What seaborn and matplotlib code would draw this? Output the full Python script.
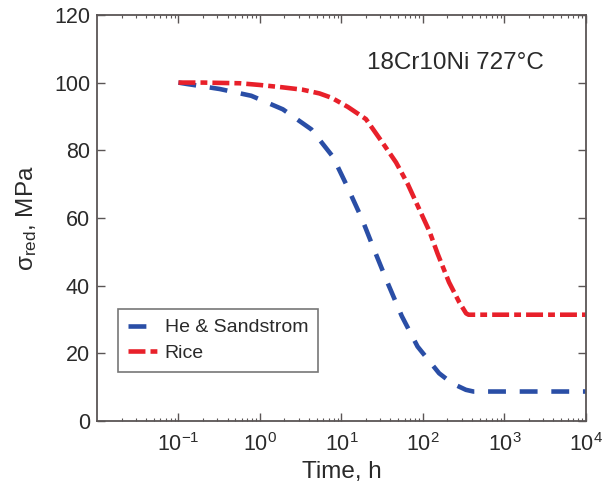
import numpy as np
import pandas as pd
import matplotlib
matplotlib.use("Agg")
import matplotlib.pyplot as plt
from matplotlib.ticker import LogLocator, NullFormatter
import seaborn as sns

# Reduced stress vs. time, 18Cr10Ni at 727 °C
time_he = [0.1, 0.126, 0.321, 0.783, 1.91, 4.26, 7.85, 11.4, 17.8, 25.7, 36.9,
           55.0, 85.9, 158.0, 229.0, 337.0, 417.0, 10000.0]
sigma_he = [100.0, 99.6, 98.1, 96.1, 92.1, 86.2, 78.1, 70.0, 59.8, 50.1, 40.8,
            31.0, 22.0, 14.1, 11.1, 9.2, 8.7, 8.7]

time_rice = [0.1, 0.199, 0.564, 0.991, 1.89, 3.33, 5.37, 7.59, 12.0, 20.0, 31.6,
             46.8, 64.6, 93.3, 120.0, 151.0, 209.0, 279.0, 339.0, 363.0, 10000.0]
sigma_rice = [100.0, 100.0, 99.8, 99.3, 98.6, 97.9, 96.8, 95.5, 92.8, 89.2, 82.4,
              76.4, 70.2, 61.8, 56.1, 49.5, 41.0, 35.1, 31.8, 31.4, 31.4]

series_names = ["He & Sandstrom", "Rice"]
series_colors = ["#2a4ea6", "#e8202a"]

df = pd.concat([
    pd.DataFrame({"t": time_he, "sigma": sigma_he, "model": series_names[0]}),
    pd.DataFrame({"t": time_rice, "sigma": sigma_rice, "model": series_names[1]}),
], ignore_index=True)

sns.set_style("ticks")
plt.rcParams["font.family"] = ["Liberation Sans", "DejaVu Sans"]
plt.rcParams["mathtext.fontset"] = "custom"
plt.rcParams["mathtext.rm"] = "Liberation Sans"
plt.rcParams["mathtext.it"] = "Liberation Sans:italic"
plt.rcParams["mathtext.sf"] = "Liberation Sans"
plt.rcParams["axes.unicode_minus"] = False

text_col = "#2a2a2a"
fig = plt.figure(figsize=(6.04, 4.97), dpi=100)
ax = fig.add_axes([0.1606, 0.153, 0.8094, 0.817])

sns.lineplot(
    data=df, x="t", y="sigma", hue="model", style="model",
    palette=dict(zip(series_names, series_colors)),
    dashes={series_names[0]: (3.9, 3.0), series_names[1]: (3.7, 1.1, 1.5, 1.1)},
    linewidth=3.3, ax=ax, sort=False, estimator=None,
)

ax.set_xscale("log")
ax.set_xlim(1e-2, 1e4)
ax.set_ylim(0, 120)
ax.set_xticks([1e-1, 1e0, 1e1, 1e2, 1e3, 1e4])
ax.xaxis.set_minor_locator(LogLocator(base=10, subs=np.arange(2, 10), numticks=20))
ax.xaxis.set_minor_formatter(NullFormatter())
ax.set_yticks(np.arange(0, 121, 20))

spine_col = "#5a5555"
for s in ax.spines.values():
    s.set_visible(True)
    s.set_color(spine_col)
    s.set_linewidth(1.3)
ax.tick_params(which="both", direction="in", top=True, right=True, colors=spine_col,
               labelcolor=text_col, labelsize=15.5)
ax.tick_params(which="major", length=5.5, width=1.0)
ax.tick_params(which="minor", length=2.5, width=0.8)
ax.tick_params(axis="x", which="major", pad=9)
ax.tick_params(axis="y", which="major", pad=5)

ax.set_xlabel("Time, h", fontsize=17.5, color=text_col, labelpad=3)
ax.set_ylabel(r"σ$_{\mathrm{red}}$, MPa", fontsize=17.5, color=text_col, labelpad=11)

ax.text(0.552, 0.882, "18Cr10Ni 727°C", transform=ax.transAxes, fontsize=17.5,
        color=text_col, ha="left", va="center")

leg = ax.legend(loc="lower left", bbox_to_anchor=(0.043, 0.121), borderaxespad=0,
                fontsize=14, frameon=True, fancybox=False, handlelength=1.55,
                handletextpad=0.35, borderpad=0.5, labelspacing=0.42, title=None)
leg.get_frame().set_edgecolor("#555555")
leg.get_frame().set_linewidth(1.2)
for line in leg.get_lines():
    line.set_linewidth(3.3)
for t in leg.get_texts():
    t.set_color(text_col)

fig.savefig("out.png", dpi=100)
